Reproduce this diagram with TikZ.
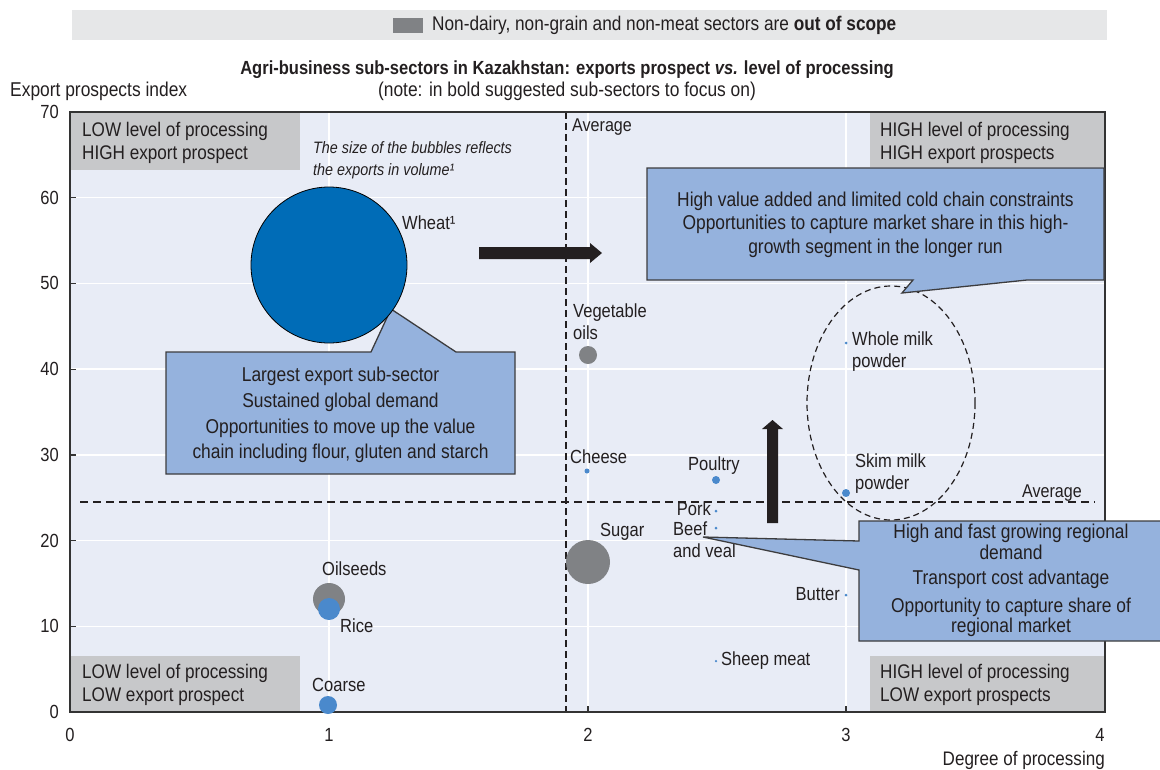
\documentclass[tikz,border=0pt]{standalone}
\usepackage{fontspec}
\setmainfont{Liberation Sans}[FakeStretch=0.87]
\usetikzlibrary{calc}

\definecolor{ink}{HTML}{231F20}
\definecolor{plotbg}{HTML}{E8ECF6}
\definecolor{legendbg}{HTML}{E6E7E8}
\definecolor{quadgray}{HTML}{C7C8CA}
\definecolor{markgray}{HTML}{808285}
\definecolor{callfill}{HTML}{95B2DD}
\definecolor{callline}{HTML}{3C3C3E}
\definecolor{wheatblue}{HTML}{006CB7}
\definecolor{dotblue}{HTML}{4A89CC}
\definecolor{framecol}{HTML}{333333}

\newcommand{\setfs}[2]{\fontsize{#1pt}{#2pt}\selectfont}

\begin{document}
\begin{tikzpicture}[x=1pt,y=-1pt,
  txt/.style={text=ink, inner sep=0pt, font=\setfs{19.7}{23}},
  lbl/.style={txt, align=left, font=\setfs{19}{22}},
  quad/.style={fill=quadgray},
  quadtxt/.style={txt, align=left, anchor=west},
  gridline/.style={white, line width=1.5pt},
  avgline/.style={ink, line width=2.2pt, dash pattern=on 7pt off 4pt},
  bubble/.style={circle, inner sep=0pt, draw=none},
  greydot/.style={bubble, fill=markgray},
  bluedot/.style={bubble, fill=dotblue},
  callout/.style={fill=callfill, draw=callline, line width=1.3pt, line join=miter},
  calltext/.style={txt, align=center, font=\setfs{20}{25.7}},
  blockarrow/.style={fill=ink},
  ticklbl/.style={txt, font=\setfs{19}{22}}]
\useasboundingbox (0,0) rectangle (1160,769);

% legend strip
\fill[legendbg] (72,10) rectangle (1107,40);
\node[fill=markgray, minimum width=30pt, minimum height=15pt, inner sep=0pt] (legmark) at (408,25) {};
\node[txt, anchor=west, font=\setfs{19.8}{22}] (legtext) at (432,25)
  {Non-dairy, non-grain and non-meat sectors are \textbf{out of scope}};

% titles
\node[txt, font=\bfseries\setfs{19}{21}] (title) at (567,70)
  {Agri-business sub-sectors in Kazakhstan: exports prospect \textit{vs.} level of processing};
\node[txt, font=\setfs{20}{22}] (subtitle) at (567,91)
  {(note: in bold suggested sub-sectors to focus on)};
\node[txt, anchor=west, font=\setfs{20}{22}] (ylabel) at (10,91) {Export prospects index};
\node[txt, anchor=east, font=\setfs{19.6}{22}] (xlabel) at (1105,760) {Degree of processing};

% plot area and grid
\fill[plotbg] (70,112) rectangle (1105,712);
\foreach \gx in {329,588,846} \draw[gridline] (\gx,112) -- (\gx,712);
\foreach \gy in {197.7,283.4,369.2,454.9,540.6,626.3} \draw[gridline] (70,\gy) -- (1105,\gy);

% quadrant boxes
\fill[quad] (70,112) rectangle (300,170);
\fill[quad] (870,112) rectangle (1105,167);
\fill[quad] (70,656) rectangle (300,712);
\fill[quad] (870,656) rectangle (1105,712);
\node[quadtxt] (qtl) at (82,143) {LOW level of processing\\HIGH export prospect};
\node[quadtxt] (qtr) at (880,143) {HIGH level of processing\\HIGH export prospects};
\node[quadtxt] (qbl) at (82,684.5) {LOW level of processing\\LOW export prospect};
\node[quadtxt] (qbr) at (880,684.5) {HIGH level of processing\\LOW export prospects};

% bubble size note
\node[txt, align=left, anchor=west, font=\itshape\setfs{16.5}{22}] (note) at (313,160)
  {The size of the bubbles reflects\\the exports in volume¹};

% average lines
\draw[avgline] (566,112) -- (566,712);
\draw[avgline, line width=2pt, dash pattern=on 8pt off 5pt] (80,502) -- (1095,502);
\node[txt, anchor=west, font=\setfs{18.5}{21}] (avgx) at (572,127) {Average};
\node[txt, anchor=east, font=\setfs{18.5}{21}] (avgy) at (1082,493) {Average};

% dairy focus ellipse
\draw[ink, line width=1.2pt, dash pattern=on 6pt off 4pt] (891,403) ellipse [x radius=84, y radius=117];

% frame and ticks
\draw[framecol, line width=2pt] (70,112) rectangle (1105,712);
\foreach \gy in {197.7,283.4,369.2,454.9,540.6,626.3} \draw[framecol, line width=1.2pt] (70,\gy) -- (76,\gy);
\foreach \gx in {329,588,846} \draw[framecol, line width=1.2pt] (\gx,712) -- (\gx,706);
\foreach \v/\gy in {0/712,10/626.3,20/540.6,30/454.9,40/369.2,50/283.4,60/197.7,70/112}
  \node[ticklbl, anchor=east] (yt\v) at (59,\gy) {\v};
\foreach \v/\gx in {0/70,1/329,2/588,3/846,4/1100}
  \node[ticklbl] (xt\v) at (\gx,735) {\v};

% wheat callout (behind the wheat bubble)
\path[callout] (166,352) -- (371,352) -- (391,309) -- (456,352) -- (515,352)
  -- (515,474) -- (166,474) -- cycle;
\node[calltext] (wheatnote) at (340.5,415)
  {Largest export sub-sector\\Sustained global demand\\Opportunities to move up the value\\chain including flour, gluten and starch};

% bubbles
\node[bubble, fill=wheatblue, draw=black, line width=0.8pt, minimum size=156pt] (wheat) at (329,265) {};
\node[greydot, minimum size=18pt] (vegoil) at (588,355) {};
\node[bluedot, minimum size=5pt] (cheese) at (587,471) {};
\node[bluedot, minimum size=8pt] (poultry) at (716,480) {};
\node[bluedot, minimum size=3pt] (pork) at (716,511) {};
\node[bluedot, minimum size=3pt] (beef) at (716,528) {};
\node[bluedot, minimum size=3pt] (wmp) at (846,343) {};
\node[bluedot, minimum size=8pt] (smp) at (846,493) {};
\node[bluedot, minimum size=3pt] (butter) at (846,595) {};
\node[bluedot, minimum size=2.5pt] (sheep) at (716,661) {};
\node[greydot, minimum size=44pt] (sugar) at (588,562) {};
\node[greydot, minimum size=32pt] (oilseeds) at (329,599) {};
\node[bluedot, minimum size=22pt] (rice) at (329,609) {};
\node[bluedot, minimum size=18pt] (coarse) at (328,705) {};

% bubble labels
\node[lbl, anchor=west] (lwheat) at (402,223) {Wheat¹};
\node[lbl, anchor=west] (lvegoil) at (573,322) {Vegetable\\oils};
\node[lbl, anchor=west] (lcheese) at (570,457) {Cheese};
\node[lbl, anchor=west] (lpoultry) at (688,466) {Poultry};
\node[lbl, anchor=east] (lpork) at (711,509) {Pork};
\node[lbl, anchor=west] (lbeef) at (673,539.5) {Beef\\and veal};
\node[lbl, anchor=west] (lwmp) at (852,352) {Whole milk\\powder};
\node[lbl, anchor=west] (lsmp) at (855,474) {Skim milk\\powder};
\node[lbl, anchor=east] (lbutter) at (840,594) {Butter};
\node[lbl, anchor=west] (lsheep) at (721,661) {Sheep meat};
\node[lbl, anchor=west] (lsugar) at (600,532) {Sugar};
\node[lbl, anchor=west] (loilseeds) at (322,569) {Oilseeds};
\node[lbl, anchor=west] (lrice) at (340,626) {Rice};
\node[lbl, anchor=west] (lcoarse) at (312,685) {Coarse};

% block arrows
\fill[blockarrow] (479,247) -- (590,247) -- (590,243) -- (602,253) -- (590,263)
  -- (590,259) -- (479,259) -- cycle;
\fill[blockarrow] (767,523) -- (767,429) -- (762,429) -- (772.5,420) -- (783,429)
  -- (778,429) -- (778,523) -- cycle;

% dairy callout
\path[callout] (647,168) -- (1104,168) -- (1104,280) -- (1027,280) -- (902,293)
  -- (913,280) -- (647,280) -- cycle;
\node[calltext, font=\setfs{20}{23.5}] (dairynote) at (875.5,224.5)
  {High value added and limited cold chain constraints\\Opportunities to capture market share in this high-\\growth segment in the longer run};

% meat callout
\path[callout] (859,521) -- (1175,521) -- (1175,641) -- (859,641) -- (859,570)
  -- (703,537) -- (859,541) -- cycle;
\node[calltext, font=\setfs{20}{20.5}] (meatnote) at (1011,580.5)
  {High and fast growing regional\\demand\\[4.5pt]Transport cost advantage\\[7.5pt]Opportunity to capture share of\\regional market};
\end{tikzpicture}
\end{document}
